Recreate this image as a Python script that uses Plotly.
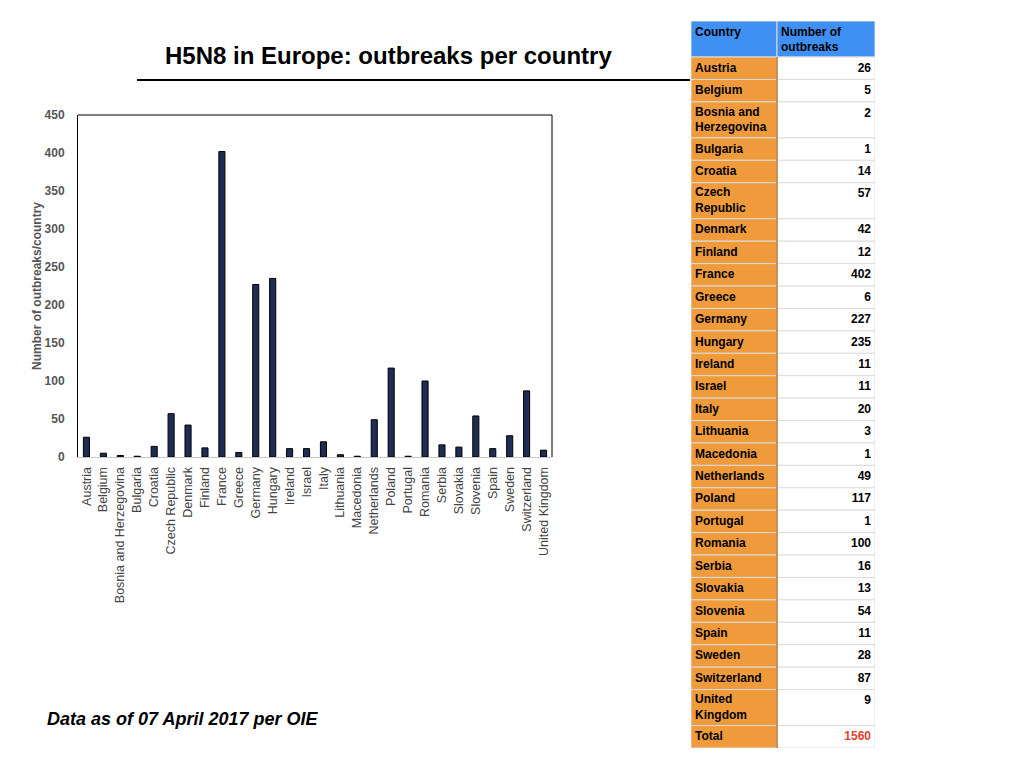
import numpy as np
import plotly.graph_objects as go

countries = ["Austria", "Belgium", "Bosnia and Herzegovina", "Bulgaria", "Croatia",
             "Czech Republic", "Denmark", "Finland", "France", "Greece", "Germany",
             "Hungary", "Ireland", "Israel", "Italy", "Lithuania", "Macedonia",
             "Netherlands", "Poland", "Portugal", "Romania", "Serbia", "Slovakia",
             "Slovenia", "Spain", "Sweden", "Switzerland", "United Kingdom"]
outbreaks = [26, 5, 2, 1, 14, 57, 42, 12, 402, 6, 227, 235, 11, 11, 20, 3, 1,
             49, 117, 1, 100, 16, 13, 54, 11, 28, 87, 9]
total_label = "Total"
total_value = 1560
header_labels = ["Country", "Number of<br>outbreaks"]

# table labels: long names wrapped on two lines
wrapped = {"Bosnia and Herzegovina": "Bosnia and<br>Herzegovina",
           "Czech Republic": "Czech<br>Republic",
           "United Kingdom": "United<br>Kingdom"}
table_names = [wrapped.get(c, c) for c in countries] + [total_label]
table_values = [str(v) for v in outbreaks] + [str(total_value)]

BAR = "#1f2d55"
BLUE = "#3f90f3"
ORANGE = "#ef9b3b"
GRID = "#dcdcdc"
FONT = "Liberation Sans, Arial, sans-serif"

# ---- table geometry (pixel-like units on a hidden axis) ----
LINE_H = 13.6
PAD = 8.8
COL1_W = 86
COL2_W = 98
TXT_PAD = 4

n_lines = np.array([t.count("<br>") + 1 for t in table_names])
row_h = PAD + LINE_H * n_lines
head_h = PAD + LINE_H * 2
row_top = head_h + np.concatenate([[0], np.cumsum(row_h)[:-1]])
row_mid = row_top + row_h / 2
first_line = row_top + (PAD + LINE_H) / 2
table_total = head_h + row_h.sum()

fig = go.Figure()

fig.add_trace(go.Bar(
    x=countries, y=outbreaks,
    marker=dict(color=BAR, line=dict(color="black", width=1)),
    width=0.36, showlegend=False, hoverinfo="x+y",
))

# header cells
fig.add_trace(go.Bar(
    orientation="h", y=[head_h / 2] * 2, x=[COL1_W, COL2_W], base=[0, COL1_W],
    width=[head_h] * 2, marker=dict(color=BLUE, line=dict(color=GRID, width=1)),
    xaxis="x2", yaxis="y2", showlegend=False, hoverinfo="skip",
))
# country column
fig.add_trace(go.Bar(
    orientation="h", y=row_mid, x=[COL1_W] * len(row_mid), base=0,
    width=row_h, marker=dict(color=ORANGE, line=dict(color=GRID, width=1)),
    xaxis="x2", yaxis="y2", showlegend=False, hoverinfo="skip",
))
# value column
fig.add_trace(go.Bar(
    orientation="h", y=row_mid, x=[COL2_W] * len(row_mid), base=COL1_W,
    width=row_h, marker=dict(color="white", line=dict(color=GRID, width=1)),
    xaxis="x2", yaxis="y2", showlegend=False, hoverinfo="skip",
))
# divider between the two columns
fig.add_trace(go.Scatter(
    x=[COL1_W, COL1_W], y=[head_h, table_total], mode="lines",
    line=dict(color="#b87a35", width=1.5),
    xaxis="x2", yaxis="y2", showlegend=False, hoverinfo="skip",
))

cell_font = dict(family=FONT, size=12, color="black", weight="bold")
fig.add_trace(go.Scatter(
    x=[TXT_PAD, COL1_W + TXT_PAD], y=[(PAD + LINE_H) / 2 + 1, head_h / 2 + 1.5],
    text=header_labels, mode="text", textposition="middle right",
    textfont=cell_font, xaxis="x2", yaxis="y2", showlegend=False, hoverinfo="skip",
))
fig.add_trace(go.Scatter(
    x=[TXT_PAD] * len(row_mid), y=row_mid + 0.5, text=table_names, mode="text",
    textposition="middle right", textfont=cell_font,
    xaxis="x2", yaxis="y2", showlegend=False, hoverinfo="skip",
))
fig.add_trace(go.Scatter(
    x=[COL1_W + COL2_W - TXT_PAD] * len(row_mid), y=first_line + 0.5, text=table_values,
    mode="text", textposition="middle left",
    textfont=dict(family=FONT, size=12, weight="bold",
                  color=["black"] * len(outbreaks) + ["#e8402a"]),
    xaxis="x2", yaxis="y2", showlegend=False, hoverinfo="skip",
))

fig.update_layout(
    width=1024, height=768,
    margin=dict(l=0, r=0, t=0, b=0),
    paper_bgcolor="white", plot_bgcolor="white",
    font=dict(family=FONT, color="#555555"),
    barmode="overlay",
    xaxis=dict(
        domain=[78 / 1024, 552 / 1024], tickangle=-90,
        tickfont=dict(size=12.5, color="#444444"),
        showline=True, linecolor="#c8c8c8", linewidth=1,
        ticks="", showgrid=False, automargin=False, ticklabelstandoff=4,
        fixedrange=True,
    ),
    yaxis=dict(
        domain=[1 - 457 / 768, 1 - 115 / 768], range=[0, 450], dtick=50,
        tickfont=dict(size=12, color="#555555", weight="bold"),
        showline=True, linecolor="black", linewidth=1,
        ticks="", showgrid=False, zeroline=False, automargin=False,
        ticklabelstandoff=10, fixedrange=True,
        title=dict(text="Number of outbreaks/country",
                   font=dict(size=12, color="#555555", weight="bold"), standoff=0),
    ),
    xaxis2=dict(
        domain=[691 / 1024, 875 / 1024], range=[0, COL1_W + COL2_W],
        visible=False, fixedrange=True,
    ),
    yaxis2=dict(
        domain=[1 - 748 / 768, 1 - 21 / 768], range=[table_total, 0],
        visible=False, fixedrange=True,
    ),
)

# frame on top and right of the plot area
fig.add_shape(type="line", xref="x domain", yref="y domain",
              x0=0, x1=1, y0=1, y1=1, line=dict(color="black", width=1))
fig.add_shape(type="line", xref="x domain", yref="y domain",
              x0=1, x1=1, y0=0, y1=1, line=dict(color="black", width=1))

# title and rule
fig.add_annotation(text="<b>H5N8 in Europe: outbreaks per country</b>",
                   xref="paper", yref="paper", x=388 / 1024, y=1 - 56 / 768,
                   xanchor="center", yanchor="middle", showarrow=False,
                   font=dict(size=24, color="black", family=FONT))
fig.add_shape(type="line", xref="paper", yref="paper",
              x0=137 / 1024, x1=690 / 1024, y0=1 - 80 / 768, y1=1 - 80 / 768,
              line=dict(color="black", width=2))

fig.add_annotation(text="<b><i>Data as of 07 April 2017 per OIE</i></b>",
                   xref="paper", yref="paper", x=45 / 1024, y=1 - 719 / 768,
                   xanchor="left", yanchor="middle", showarrow=False,
                   font=dict(size=18, color="black", family=FONT))

fig.write_html("out.html", config={"displayModeBar": False},
               post_script="document.body.style.margin = '0';")
